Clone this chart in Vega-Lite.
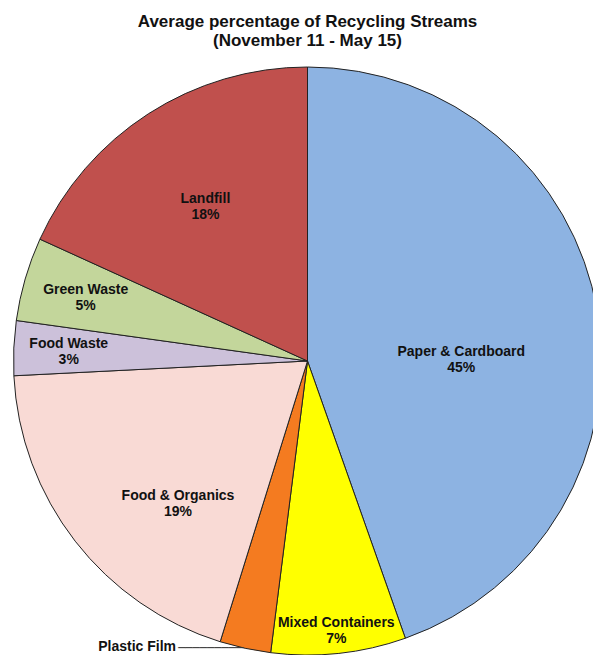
{
  "$schema": "https://vega.github.io/schema/vega-lite/v6.json",
  "width": 615,
  "height": 588,
  "autosize": "none",
  "padding": {"left": 0, "right": 0, "top": 67, "bottom": 0},
  "background": "white",
  "title": {
    "text": ["Average percentage of Recycling Streams", "(November 11 - May 15)"],
    "font": "Liberation Sans",
    "fontSize": 17,
    "fontWeight": "bold",
    "lineHeight": 19,
    "color": "#111111",
    "offset": 15
  },
  "config": {"view": {"stroke": null}},
  "data": {
    "values": [
      {"o": 1, "category": "Paper & Cardboard", "value": 44.6, "label": "Paper & Cardboard\n45%"},
      {"o": 2, "category": "Mixed Containers", "value": 7.4, "label": "Mixed Containers\n7%"},
      {"o": 3, "category": "Plastic Film", "value": 2.8, "label": "Plastic Film\n3%"},
      {"o": 4, "category": "Food & Organics", "value": 19.4, "label": "Food & Organics\n19%"},
      {"o": 5, "category": "Food Waste", "value": 3.0, "label": "Food Waste\n3%"},
      {"o": 6, "category": "Green Waste", "value": 4.6, "label": "Green Waste\n5%"},
      {"o": 7, "category": "Landfill", "value": 18.2, "label": "Landfill\n18%"}
    ]
  },
  "encoding": {
    "theta": {"field": "value", "type": "quantitative", "stack": true},
    "order": {"field": "o", "type": "quantitative", "sort": "ascending"}
  },
  "layer": [
    {
      "mark": {"type": "arc", "stroke": "#222222", "strokeWidth": 1},
      "encoding": {
        "color": {
          "field": "category",
          "type": "nominal",
          "scale": {
            "domain": ["Paper & Cardboard", "Mixed Containers", "Plastic Film", "Food & Organics", "Food Waste", "Green Waste", "Landfill"],
            "range": ["#8DB3E2", "#FFFF00", "#F47B20", "#F9DAD5", "#CCC1DA", "#C3D69B", "#C0504D"]
          },
          "legend": null
        }
      }
    },
    {
      "mark": {"type": "text", "radius": 155, "dx": 1, "dy": 17, "font": "Liberation Sans", "fontSize": 14, "fontWeight": "bold", "lineHeight": 16, "lineBreak": "\n", "color": "#111111", "align": "center", "baseline": "middle"},
      "encoding": {"text": {"condition": {"test": "datum.category === 'Paper & Cardboard'", "field": "label", "type": "nominal"}, "value": ""}}
    },
    {
      "mark": {"type": "text", "radius": 270, "dy": -6, "font": "Liberation Sans", "fontSize": 14, "fontWeight": "bold", "lineHeight": 16, "lineBreak": "\n", "color": "#111111", "align": "center", "baseline": "middle"},
      "encoding": {"text": {"condition": {"test": "datum.category === 'Mixed Containers'", "field": "label", "type": "nominal"}, "value": ""}}
    },
    {
      "mark": {"type": "text", "radius": 294, "dx": -108, "dy": -1, "font": "Liberation Sans", "fontSize": 14, "fontWeight": "bold", "lineHeight": 16, "lineBreak": "\n", "color": "#111111", "align": "center", "baseline": "middle"},
      "encoding": {"text": {"condition": {"test": "datum.category === 'Plastic Film'", "field": "label", "type": "nominal"}, "value": ""}}
    },
    {
      "mark": {"type": "text", "radius": 294, "dx": -2, "dy": 0, "font": "DejaVu Sans", "fontSize": 12, "color": "#333333", "align": "right", "baseline": "middle"},
      "encoding": {"text": {"condition": {"test": "datum.category === 'Plastic Film'", "value": "─────────"}, "value": ""}}
    },
    {
      "mark": {"type": "text", "radius": 193, "dx": 23, "dy": 17, "font": "Liberation Sans", "fontSize": 14, "fontWeight": "bold", "lineHeight": 16, "lineBreak": "\n", "color": "#111111", "align": "center", "baseline": "middle"},
      "encoding": {"text": {"condition": {"test": "datum.category === 'Food & Organics'", "field": "label", "type": "nominal"}, "value": ""}}
    },
    {
      "mark": {"type": "text", "radius": 239, "dy": -6, "font": "Liberation Sans", "fontSize": 14, "fontWeight": "bold", "lineHeight": 16, "lineBreak": "\n", "color": "#111111", "align": "center", "baseline": "middle"},
      "encoding": {"text": {"condition": {"test": "datum.category === 'Food Waste'", "field": "label", "type": "nominal"}, "value": ""}}
    },
    {
      "mark": {"type": "text", "radius": 231, "dy": -7, "font": "Liberation Sans", "fontSize": 14, "fontWeight": "bold", "lineHeight": 16, "lineBreak": "\n", "color": "#111111", "align": "center", "baseline": "middle"},
      "encoding": {"text": {"condition": {"test": "datum.category === 'Green Waste'", "field": "label", "type": "nominal"}, "value": ""}}
    },
    {
      "mark": {"type": "text", "radius": 185, "dx": -2, "dy": -6, "font": "Liberation Sans", "fontSize": 14, "fontWeight": "bold", "lineHeight": 16, "lineBreak": "\n", "color": "#111111", "align": "center", "baseline": "middle"},
      "encoding": {"text": {"condition": {"test": "datum.category === 'Landfill'", "field": "label", "type": "nominal"}, "value": ""}}
    }
  ]
}
